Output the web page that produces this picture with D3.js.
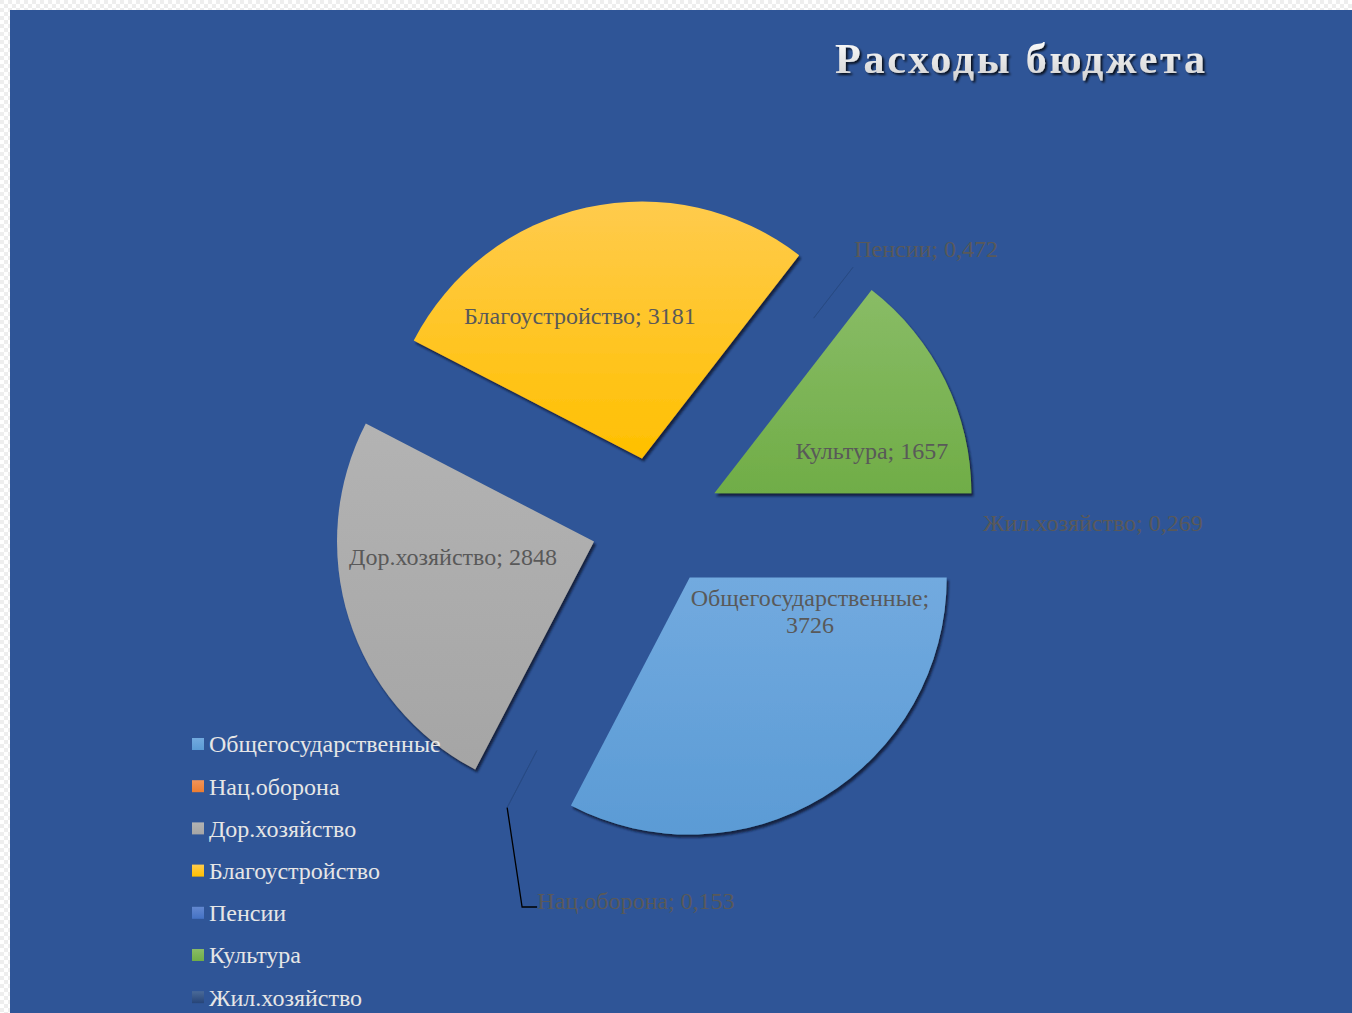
<!DOCTYPE html>
<html>
<head>
<meta charset="utf-8">
<script src="https://cdn.jsdelivr.net/npm/d3@7"></script>
<style>
  html, body { margin: 0; padding: 0; background: #ffffff; }
  svg { display: block; }
</style>
</head>
<body>
<svg id="chart" width="1352" height="1013"></svg>
<script>
// ---- data ----
const title = "Расходы бюджета";
const categories = ["Общегосударственные", "Нац.оборона", "Дор.хозяйство", "Благоустройство", "Пенсии", "Культура", "Жил.хозяйство"];
const values = [3726, 0.153, 2848, 3181, 0.472, 1657, 0.269];
const colors = ["#5B9BD5", "#ED7D31", "#A5A5A5", "#FFC000", "#4472C4", "#70AD47", "#264478"];
const lightColors = ["#72AADF", "#F29459", "#B3B3B3", "#FFCB4D", "#6388D0", "#89BC66", "#4A6A98"];

// ---- layout ----
const W = 1352, H = 1013;
const cx = 656, cy = 522, R = 257, explode = 65;
const svg = d3.select("#chart");
const defs = svg.append("defs");

// checkered transparency border
const pat = defs.append("pattern").attr("id", "chk").attr("width", 8).attr("height", 8)
  .attr("patternUnits", "userSpaceOnUse");
pat.append("rect").attr("width", 8).attr("height", 8).attr("fill", "#ffffff");
pat.append("rect").attr("width", 4).attr("height", 4).attr("fill", "#eeeeee");
pat.append("rect").attr("x", 4).attr("y", 4).attr("width", 4).attr("height", 4).attr("fill", "#eeeeee");
svg.append("rect").attr("width", W).attr("height", H).attr("fill", "url(#chk)");
svg.append("rect").attr("x", 10).attr("y", 10).attr("width", W - 10).attr("height", H - 10).attr("fill", "#2F5597");

// gradients
colors.forEach((c, i) => {
  const g = defs.append("linearGradient").attr("id", "grad" + i)
    .attr("x1", 0).attr("y1", 0).attr("x2", 0).attr("y2", 1);
  g.append("stop").attr("offset", "0%").attr("stop-color", lightColors[i]);
  g.append("stop").attr("offset", "100%").attr("stop-color", c);
});
const sh = defs.append("filter").attr("id", "shadow").attr("x", "-10%").attr("y", "-10%").attr("width", "130%").attr("height", "130%");
sh.append("feDropShadow").attr("dx", 2).attr("dy", 3).attr("stdDeviation", 1.2)
  .attr("flood-color", "#0a1530").attr("flood-opacity", 0.85);
const tsh = defs.append("filter").attr("id", "tshadow");
tsh.append("feDropShadow").attr("dx", 2).attr("dy", 2).attr("stdDeviation", 1)
  .attr("flood-color", "#000000").attr("flood-opacity", 0.8);
const tg = defs.append("linearGradient").attr("id", "tgrad").attr("x1", 0).attr("y1", 0).attr("x2", 0).attr("y2", 1);
tg.append("stop").attr("offset", "0%").attr("stop-color", "#ffffff");
tg.append("stop").attr("offset", "100%").attr("stop-color", "#d0d0d0");

// title
svg.append("text").attr("x", 1020).attr("y", 73)
  .attr("text-anchor", "middle")
  .attr("font-family", "'Liberation Serif', 'Times New Roman', serif")
  .attr("font-weight", "bold").attr("font-size", 42)
  .attr("textLength", 370).attr("lengthAdjust", "spacing")
  .attr("fill", "url(#tgrad)").attr("filter", "url(#tshadow)")
  .text(title);

// pie
const pie = d3.pie().sort(null).startAngle(Math.PI / 2).endAngle(Math.PI / 2 + 2 * Math.PI);
const arcs = pie(values);
const arc = d3.arc().innerRadius(0).outerRadius(R);
const arcOuter = d3.arc().innerRadius(R * 0.75).outerRadius(R);
const dir = a => [Math.sin(a), -Math.cos(a)];
const g = svg.append("g").attr("transform", `translate(${cx},${cy})`);
const isBig = d => (d.endAngle - d.startAngle) > 0.01;

const slices = g.selectAll("g.slice").data(arcs).enter().append("g")
  .attr("transform", d => {
    const m = (d.startAngle + d.endAngle) / 2;
    const [ux, uy] = dir(m);
    return `translate(${ux * explode},${uy * explode})`;
  });
slices.filter(isBig).append("path")
  .attr("d", arc)
  .attr("fill", (d, i) => `url(#grad${arcs.indexOf(d)})`)
  .attr("filter", "url(#shadow)");
// tiny slices: only a faint outline near the rim is visible
slices.filter(d => !isBig(d) && d.index !== 6).append("path")
  .attr("d", arcOuter)
  .attr("fill", "none")
  .attr("stroke", "#27487f").attr("stroke-opacity", 0.6)
  .attr("stroke-width", 1);

// data labels
const fmt = d3.formatLocale({ decimal: ",", thousands: "", grouping: [3], currency: ["", ""] });
const fmtVal = v => v < 1 ? fmt.format(".3f")(v) : fmt.format("d")(v);
// label centre positions, in radius units relative to pie centre
const labelPos = [[0.599, 0.346], [-0.078, 1.475], [-0.790, 0.136], [-0.296, -0.805], [1.051, -1.062], [0.840, -0.276], [1.700, 0.004]];
const lblFont = "'Liberation Serif', 'Times New Roman', serif";
arcs.forEach((d, i) => {
  const [px, py] = labelPos[i];
  const t = g.append("text")
    .attr("x", px * R).attr("y", py * R)
    .attr("text-anchor", "middle")
    .attr("font-family", lblFont).attr("font-size", 24)
    .attr("fill", "#595959");
  if (i === 0) {
    t.append("tspan").attr("x", px * R).attr("dy", "-0.22em").text(categories[i] + ";");
    t.append("tspan").attr("x", px * R).attr("dy", "1.12em").text(fmtVal(values[i]));
  } else {
    t.attr("dy", "0.35em").text(categories[i] + "; " + fmtVal(values[i]));
  }
});

// leader line for Нац.оборона
{
  const d = arcs[1];
  const m = (d.startAngle + d.endAngle) / 2;
  const [ux, uy] = dir(m);
  const sx = ux * (explode + R), sy = uy * (explode + R);
  const ex = -0.521 * R, ey = 1.498 * R;
  g.append("path")
    .attr("d", `M${sx},${sy}L${ex},${ey}L${ex + 15},${ey}`)
    .attr("fill", "none").attr("stroke", "#000000").attr("stroke-width", 1.3);
}

// legend
const legend = svg.append("g").attr("transform", "translate(192,744)");
const li = legend.selectAll("g").data(categories).enter().append("g")
  .attr("transform", (d, i) => `translate(0,${i * 42.2})`);
li.append("rect").attr("x", 0).attr("y", -6).attr("width", 12).attr("height", 12)
  .attr("fill", (d, i) => `url(#grad${i})`);
li.append("text").attr("x", 17).attr("y", 0).attr("dy", "0.35em")
  .attr("font-family", lblFont).attr("font-size", 24)
  .attr("fill", "#E6E6E6").text(d => d);
</script>
</body>
</html>
